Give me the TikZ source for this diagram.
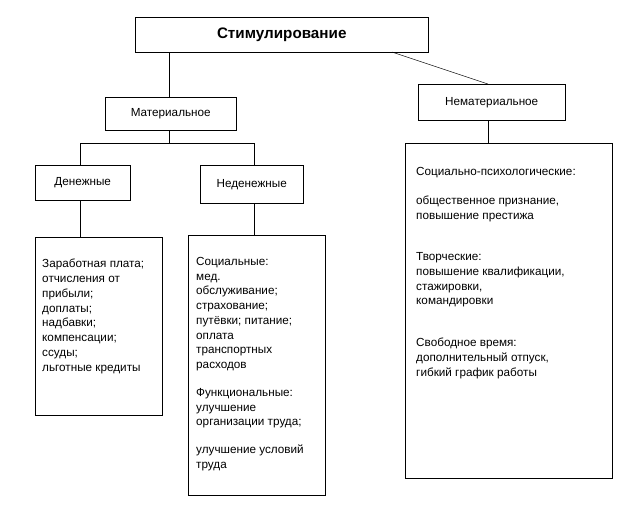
\documentclass[tikz,border=0pt]{standalone}
\usepackage{fontspec}
\setmainfont{Liberation Sans}
\usetikzlibrary{positioning}
\tikzset{
    boxnode/.style = {draw=black, thin, inner sep=0pt, anchor=north west},
    headnode/.style = {align=center, inner sep=0pt, font=\fontsize{10}{12}\selectfont},
    listnode/.style = {align=left, anchor=north west, inner sep=0pt, font=\fontsize{10}{12.6}\selectfont}
}
\begin{document}
\begin{tikzpicture}[x=0.03cm, y=-0.03cm]
    \useasboundingbox (0,0) rectangle (630,519);

    % head boxes
    \node [boxnode, minimum width=293*0.03cm, minimum height=35*0.03cm] (stim) at (135,17) {};
    \node [headnode, font=\bfseries\fontsize{13}{14}\selectfont] at (stim.center) {Стимулирование};
    \node [boxnode, minimum width=131*0.03cm, minimum height=33*0.03cm] (mat) at (105,97) {};
    \node [headnode] at (mat.center) {Материальное};
    \node [boxnode, minimum width=147*0.03cm, minimum height=36*0.03cm] (nemat) at (418,84) {};
    \node [headnode] at (nemat.center) {Нематериальное};
    \node [boxnode, minimum width=95*0.03cm, minimum height=35*0.03cm] (den) at (35,165) {};
    \node [headnode] at (den.center) {Денежные};
    \node [boxnode, minimum width=103*0.03cm, minimum height=38*0.03cm] (neden) at (200,165) {};
    \node [headnode] at (neden.center) {Неденежные};

    % list boxes
    \node [boxnode, minimum width=127*0.03cm, minimum height=178*0.03cm] (denlist) at (35,237) {};
    \node [listnode] (dentext) at (42,259) {Заработная плата;\\ отчисления от\\ прибыли;\\ доплаты;\\ надбавки;\\ компенсации;\\ ссуды;\\ льготные кредиты};
    \node [boxnode, minimum width=137*0.03cm, minimum height=260*0.03cm] (nedenlist) at (188,235) {};
    \node [listnode] (nedentext) at (196,257) {Социальные:\\ мед.\\ обслуживание;\\ страхование;\\ путёвки; питание;\\ оплата\\ транспортных\\ расходов\\[11pt] Функциональные:\\ улучшение\\ организации труда;\\[11pt] улучшение условий\\ труда};
    \node [boxnode, minimum width=207*0.03cm, minimum height=335*0.03cm] (nematlist) at (405,143) {};
    \node [listnode] (nemattext) at (416,167) {Социально-психологические:\\[12pt] общественное признание,\\ повышение престижа\\[23pt] Творческие:\\ повышение квалификации,\\ стажировки,\\ командировки\\[23pt] Свободное время:\\ дополнительный отпуск,\\ гибкий график работы};

    % connectors
    \draw [thin] (169,52) coordinate (s1) -- (s1 |- mat.north);
    \draw [thin] (392,52) coordinate (s2) -- (488,84) coordinate (n1);
    \draw [thin] (n1 |- nemat.south) -- (n1 |- nematlist.north);
    \draw [thin] (s1 |- mat.south) -- (169,143) coordinate (fork);
    \draw [thin] (80,143) coordinate (forkl) -- (254,143) coordinate (forkr);
    \draw [thin] (forkl) -- (forkl |- den.north);
    \draw [thin] (forkr) -- (forkr |- neden.north);
    \draw [thin] (forkl |- den.south) -- (forkl |- denlist.north);
    \draw [thin] (forkr |- neden.south) -- (forkr |- nedenlist.north);
\end{tikzpicture}
\end{document}
